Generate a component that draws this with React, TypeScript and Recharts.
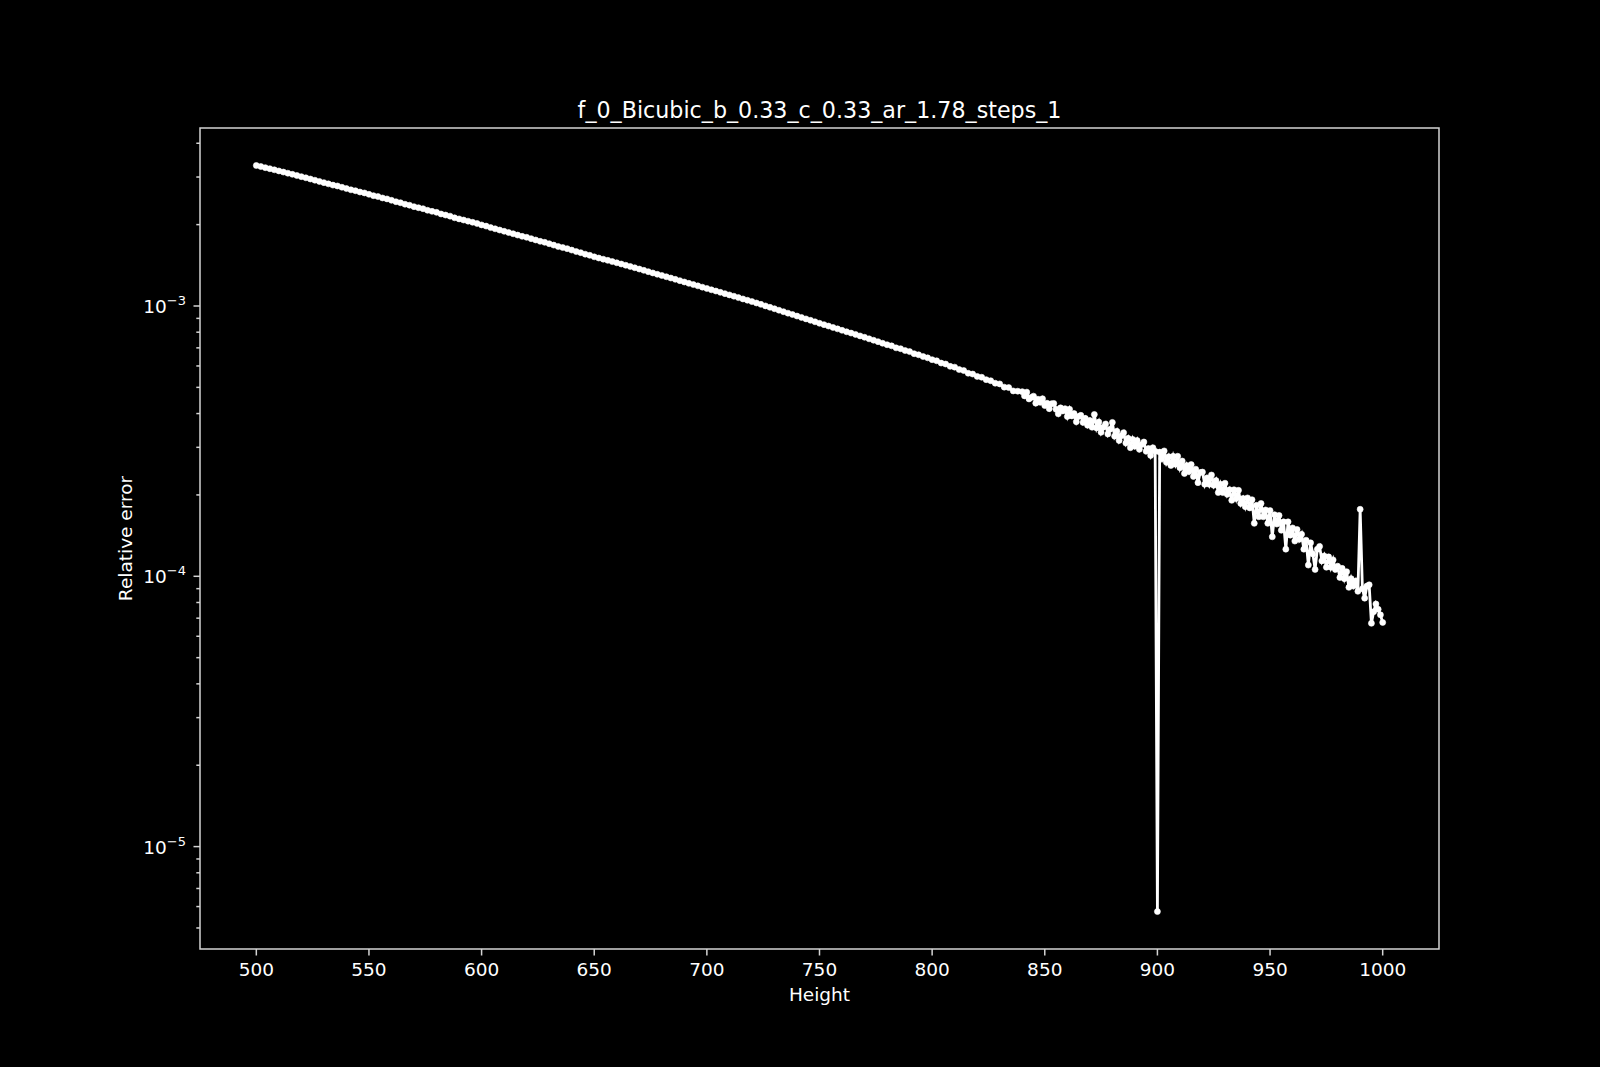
import React from 'react';
import { LineChart, Line, XAxis, YAxis, ReferenceArea, Label } from 'recharts';

// relative error, in units of 1e-4
// smooth part: height 500 to 838, read every 2
const errCoarseE4 = [
  33.1, 32.8, 32.5, 32.2, 31.9, 31.6, 31.3, 31.0, 30.7, 30.4,
  30.1, 29.8, 29.5, 29.2, 28.9, 28.6, 28.3, 28.0, 27.8, 27.5,
  27.2, 26.9, 26.7, 26.4, 26.2, 25.9, 25.6, 25.4, 25.1, 24.9,
  24.6, 24.3, 24.1, 23.8, 23.6, 23.3, 23.1, 22.9, 22.6, 22.4,
  22.2, 21.9, 21.7, 21.5, 21.2, 21.0, 20.8, 20.6, 20.4, 20.2,
  19.95, 19.75, 19.5, 19.3, 19.1, 18.9, 18.7, 18.5, 18.3, 18.1,
  17.95, 17.75, 17.55, 17.35, 17.2, 17.0, 16.8, 16.6, 16.45, 16.3,
  16.1, 15.9, 15.75, 15.55, 15.4, 15.2, 15.05, 14.9, 14.75, 14.6,
  14.45, 14.3, 14.15, 14.0, 13.85, 13.7, 13.55, 13.4, 13.25, 13.1,
  12.97, 12.83, 12.69, 12.55, 12.41, 12.27, 12.13, 12.0, 11.87, 11.74,
  11.61, 11.48, 11.36, 11.23, 11.11, 10.99, 10.87, 10.74, 10.62, 10.5,
  10.38, 10.26, 10.14, 10.01, 9.89, 9.77, 9.65, 9.53, 9.41, 9.3,
  9.18, 9.07, 8.96, 8.85, 8.74, 8.63, 8.53, 8.43, 8.33, 8.23,
  8.13, 8.03, 7.94, 7.85, 7.75, 7.66, 7.56, 7.47, 7.38, 7.28,
  7.19, 7.12, 7.0, 6.95, 6.84, 6.78, 6.66, 6.6, 6.5, 6.43,
  6.33, 6.27, 6.15, 6.1, 5.98, 5.94, 5.82, 5.77, 5.64, 5.6,
  5.49, 5.45, 5.34, 5.29, 5.18, 5.15, 5.01, 4.99, 4.85, 4.84,
];
// noisy part: height 840 to 1000, read every 1
const errFineE4 = [
  4.82, 4.65, 4.8, 4.53, 4.59, 4.64, 4.37, 4.52, 4.4, 4.54,
  4.28, 4.37, 4.17, 4.35, 4.36, 4.15, 3.99, 4.2, 4.09, 4.17,
  3.9, 4.15, 3.92, 4.0, 3.73, 3.9, 3.94, 3.71, 3.84, 3.62,
  3.77, 3.56, 3.97, 3.54, 3.72, 3.41, 3.56, 3.66, 3.36, 3.5,
  3.71, 3.3, 3.44, 3.18, 3.31, 3.4, 3.11, 3.24, 2.99, 3.21,
  3.03, 3.18, 2.95, 3.07, 3.14, 2.9, 2.97, 2.8, 2.99, 2.9,
  0.0575, 2.88, 2.72, 2.91, 2.64, 2.77, 2.57, 2.78, 2.6, 2.78,
  2.52, 2.67, 2.4, 2.57, 2.44, 2.59, 2.34, 2.49, 2.22, 2.42,
  2.43, 2.19, 2.31, 2.19, 2.37, 2.17, 2.26, 2.04, 2.19, 2.04,
  2.21, 2.01, 2.09, 1.91, 2.09, 1.94, 2.08, 1.86, 1.94, 1.81,
  1.95, 1.79, 1.92, 1.57, 1.83, 1.66, 1.86, 1.66, 1.76, 1.57,
  1.75, 1.4, 1.69, 1.56, 1.68, 1.48, 1.59, 1.26, 1.59, 1.42,
  1.51, 1.35, 1.49, 1.37, 1.43, 1.26, 1.36, 1.1, 1.33, 1.21,
  1.06, 1.26, 1.29, 1.14, 1.19, 1.08, 1.18, 1.08, 1.15, 1.06,
  1.09, 0.99, 1.07, 0.98, 1.04, 0.91, 0.98, 0.92, 0.96, 0.88,
  1.77, 0.9, 0.83, 0.92, 0.93, 0.67, 0.74, 0.79, 0.755, 0.72,
  0.675,
];
const coarseHeights = errCoarseE4.map((_, i) => 500 + 2 * i);
const fineHeights = errFineE4.map((_, i) => 840 + i);

const xTicks = [500, 550, 600, 650, 700, 750, 800, 850, 900, 950, 1000];
const yMajor = [1e-5, 1e-4, 1e-3];
const yMinor = [
  5e-6, 6e-6, 7e-6, 8e-6, 9e-6,
  2e-5, 3e-5, 4e-5, 5e-5, 6e-5, 7e-5, 8e-5, 9e-5,
  2e-4, 3e-4, 4e-4, 5e-4, 6e-4, 7e-4, 8e-4, 9e-4,
  2e-3, 3e-3, 4e-3,
];

const X_DOMAIN: [number, number] = [475, 1025];
const Y_DOMAIN: [number, number] = [4.18e-6, 4.555e-3];

const data = [
  ...coarseHeights.map((h, i) => ({ height: h, err: errCoarseE4[i] * 1e-4 })),
  ...fineHeights.map((h, i) => ({ height: h, err: errFineE4[i] * 1e-4 })),
];

const FONT = '"DejaVu Sans", sans-serif';
const SPINE = '#d4d4d4';
const TICK_SIZE = 6.5;
const TICK_MARGIN = 7.5;

const LogTick = (props: any) => {
  const { x, y, payload } = props;
  const v = payload.value;
  const major = yMajor.some((m) => Math.abs(m - v) < m * 1e-6);
  const axisX = x + TICK_SIZE + TICK_MARGIN;
  const exp = Math.round(Math.log10(v));
  return (
    <g>
      <line
        x1={axisX}
        x2={axisX - (major ? TICK_SIZE : 3.7)}
        y1={y}
        y2={y}
        stroke={SPINE}
        strokeWidth={1.5}
      />
      {major && (
        <text x={x} y={y + 7} textAnchor="end" fill="#fff" fontSize={18.5} fontFamily={FONT}>
          10
          <tspan dy={-8} fontSize={13}>{'\u2212' + Math.abs(exp)}</tspan>
        </text>
      )}
    </g>
  );
};

export default function App() {
  return (
    <div style={{ position: 'absolute', left: 0, top: 0, width: 1600, height: 1067, background: '#000' }}>
      <div
        style={{
          position: 'absolute',
          left: 200,
          width: 1239,
          top: 98.5,
          textAlign: 'center',
          color: '#fff',
          fontFamily: FONT,
          fontSize: 22.2,
          lineHeight: 1,
        }}
      >
        f_0_Bicubic_b_0.33_c_0.33_ar_1.78_steps_1
      </div>
      <LineChart
        width={1600}
        height={1067}
        data={data}
        margin={{ top: 128, right: 161, bottom: 58, left: 100 }}
      >
        <ReferenceArea
          x1={X_DOMAIN[0]}
          x2={X_DOMAIN[1]}
          y1={Y_DOMAIN[0]}
          y2={Y_DOMAIN[1]}
          fill="none"
          fillOpacity={0}
          stroke={SPINE}
          strokeWidth={1.5}
        />
        <XAxis
          dataKey="height"
          type="number"
          domain={X_DOMAIN}
          allowDataOverflow
          ticks={xTicks}
          interval={0}
          height={60}
          axisLine={false}
          tickSize={TICK_SIZE}
          tickMargin={7}
          tickLine={{ stroke: SPINE, strokeWidth: 1.5 }}
          tick={{ fill: '#fff', fontSize: 18.5, fontFamily: FONT }}
        >
          <Label
            value="Height"
            position="insideBottom"
            offset={8}
            fill="#fff"
            fontSize={18.5}
            fontFamily={FONT}
          />
        </XAxis>
        <YAxis
          type="number"
          scale="log"
          domain={Y_DOMAIN}
          allowDataOverflow
          ticks={[...yMajor, ...yMinor]}
          interval={0}
          width={100}
          axisLine={false}
          tickLine={false}
          tickSize={TICK_SIZE}
          tickMargin={TICK_MARGIN}
          tick={<LogTick />}
        >
          <Label
            value="Relative error"
            position="insideLeft"
            angle={-90}
            offset={25.5}
            textAnchor="middle"
            fill="#fff"
            fontSize={18.5}
            fontFamily={FONT}
          />
        </YAxis>
        <Line
          type="linear"
          dataKey="err"
          stroke="#fff"
          strokeWidth={2.8}
          dot={{ r: 3, fill: '#fff', stroke: '#fff', strokeWidth: 0.6 }}
          activeDot={false}
          isAnimationActive={false}
        />
      </LineChart>
    </div>
  );
}
